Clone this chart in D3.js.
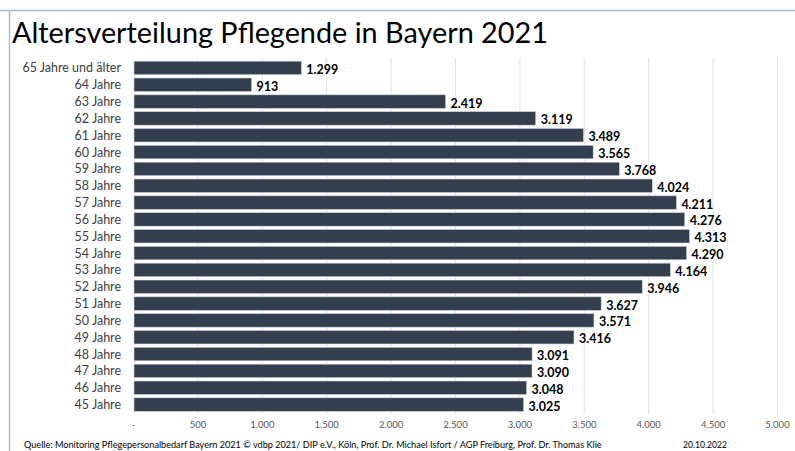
<!DOCTYPE html>
<html>
<head>
<meta charset="utf-8">
<script src="https://cdn.jsdelivr.net/npm/d3@7"></script>
<style>
  html, body { margin: 0; padding: 0; background: #fff; }
  svg { display: block; }
  text { font-family: Lato, "Open Sans", sans-serif; }
</style>
</head>
<body>
<svg id="chart" width="795" height="451"></svg>
<script>
// Age groups, top to bottom
const categories = [
  "65 Jahre und älter", "64 Jahre", "63 Jahre", "62 Jahre", "61 Jahre",
  "60 Jahre", "59 Jahre", "58 Jahre", "57 Jahre", "56 Jahre", "55 Jahre",
  "54 Jahre", "53 Jahre", "52 Jahre", "51 Jahre", "50 Jahre", "49 Jahre",
  "48 Jahre", "47 Jahre", "46 Jahre", "45 Jahre"
];
// Number of nursing staff per age group
const values = [
  1299, 913, 2419, 3119, 3489, 3565, 3768, 4024, 4211, 4276, 4313,
  4290, 4164, 3946, 3627, 3571, 3416, 3091, 3090, 3048, 3025
];
const tickValues = [0, 500, 1000, 1500, 2000, 2500, 3000, 3500, 4000, 4500, 5000];

const titleText = "Altersverteilung Pflegende in Bayern 2021";
const sourceText = "Quelle: Monitoring Pflegepersonalbedarf Bayern 2021 © vdbp 2021/ DIP e.V., Köln, Prof. Dr. Michael Isfort / AGP Freiburg, Prof. Dr. Thomas Klie";
const dateText = "20.10.2022";

const svg = d3.select("#chart");
const fmt = d3.formatLocale({ decimal: ",", thousands: ".", grouping: [3], currency: ["", "€"] }).format(",d");
const tickFmt = v => v === 0 ? "-" : fmt(v);

// Slide frame lines
svg.append("line").attr("x1", 0).attr("x2", 795).attr("y1", 10.5).attr("y2", 10.5)
  .attr("stroke", "#a9bccb").attr("stroke-width", 1.5);
svg.append("line").attr("x1", 9.5).attr("x2", 9.5).attr("y1", 10).attr("y2", 451)
  .attr("stroke", "#a9bccb").attr("stroke-width", 1.5);

// Fit a text element to a target width by adjusting its font size
function fitWidth(sel, target) {
  const node = sel.node();
  const fs = parseFloat(sel.attr("font-size"));
  const w = node.getComputedTextLength();
  sel.attr("font-size", (fs * target / w).toFixed(2));
}

const title = svg.append("text")
  .attr("x", 12).attr("y", 43)
  .attr("font-size", 30).attr("fill", "#000")
  .text(titleText);
fitWidth(title, 536);

const x = d3.scaleLinear().domain([0, 5000]).range([133, 777]);
const y = d3.scaleBand().domain(categories).range([59.5, 413]).paddingInner(0.2).paddingOuter(0.1);

// Vertical gridlines
svg.append("g").selectAll("line").data(tickValues.slice(1)).join("line")
  .attr("x1", d => x(d) + 0.5).attr("x2", d => x(d) + 0.5)
  .attr("y1", 58).attr("y2", 414)
  .attr("stroke", "#e3e3e3").attr("stroke-width", 1);

// Bars
svg.append("g").selectAll("rect").data(values).join("rect")
  .attr("x", x(0) + 1)
  .attr("y", (d, i) => y(categories[i]))
  .attr("width", d => x(d) - x(0))
  .attr("height", y.bandwidth())
  .attr("fill", "#333f4e")
  .attr("stroke", "#c9ced4").attr("stroke-width", 0.6);

// Value labels
svg.append("g").selectAll("text").data(values).join("text")
  .attr("x", d => x(d) + 6)
  .attr("y", (d, i) => y(categories[i]) + y.bandwidth() / 2 + 6)
  .attr("font-size", 12.5).attr("font-weight", "bold").attr("fill", "#000")
  .text(d => fmt(d));

// Category axis labels
const yAxis = d3.axisLeft(y).tickSize(0).tickPadding(0);
const yg = svg.append("g").attr("transform", "translate(121,0)").call(yAxis);
yg.select(".domain").remove();
yg.selectAll("text").attr("font-size", 12.5).attr("fill", "#404040")
  .attr("font-family", "Lato, 'Open Sans', sans-serif").attr("dy", "0.36em");

// Value axis tick labels
const xAxis = d3.axisBottom(x).tickValues(tickValues).tickFormat(tickFmt).tickSize(0).tickPadding(0);
const xg = svg.append("g").attr("transform", "translate(0,428)").call(xAxis);
xg.select(".domain").remove();
xg.selectAll("text").attr("font-size", 9.5).attr("fill", "#595959")
  .attr("font-family", "Lato, 'Open Sans', sans-serif").attr("dy", 0);

// Source and date line
const src = svg.append("text").attr("x", 24).attr("y", 448)
  .attr("font-size", 9).attr("fill", "#000").text(sourceText);
fitWidth(src, 578);
const dt = svg.append("text").attr("x", 683).attr("y", 448)
  .attr("font-size", 9).attr("fill", "#000").text(dateText);
fitWidth(dt, 44);
</script>
</body>
</html>
